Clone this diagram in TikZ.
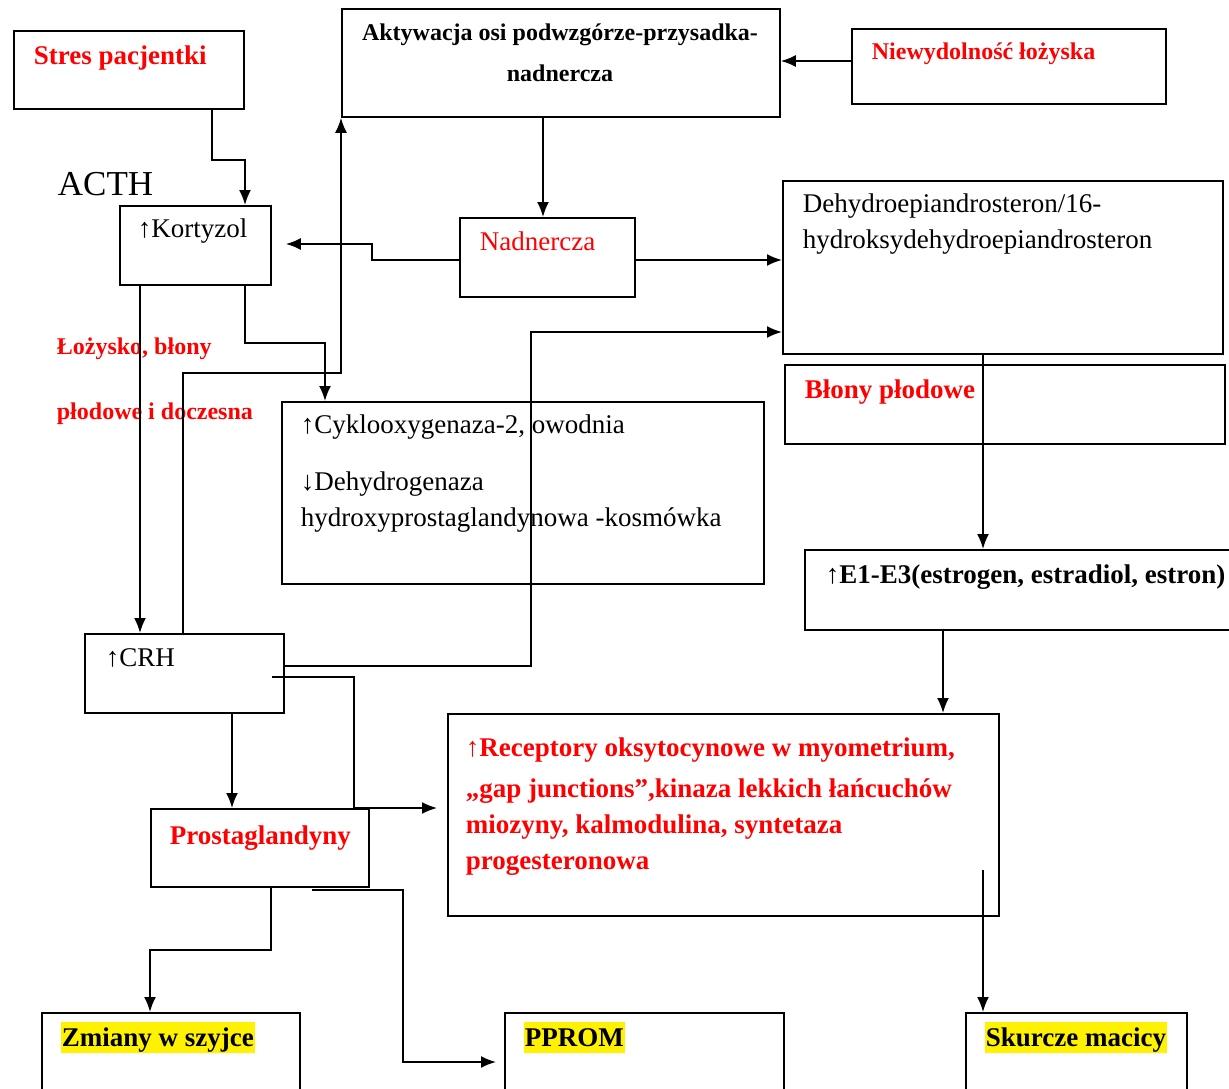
\documentclass[tikz,border=0pt]{standalone}
\usepackage{fontspec}
\setmainfont{Liberation Serif}
\usetikzlibrary{arrows.meta,calc}

\tikzset{
  box/.style={draw, anchor=north west, inner sep=0pt},
  txt/.style={anchor=base west, inner sep=0pt, align=left, font=\fontsize{27}{36}\selectfont},
  redtxt/.style={txt, text=red},
  redbold/.style={txt, text=red, font=\fontsize{27}{36}\selectfont\bfseries},
  redsmall/.style={txt, text=red, font=\fontsize{24}{65}\selectfont\bfseries},
  hl/.style={txt, fill=yellow, inner xsep=1pt, text height=24pt, text depth=7pt, font=\fontsize{27}{36}\selectfont\bfseries}
}

\begin{document}
\begin{tikzpicture}[x=1pt, y=-1pt, line width=1.8pt, >={Latex[length=15pt,width=12pt]}]
  \useasboundingbox (0,0) rectangle (1229,1089);
  \clip (0,0) rectangle (1229,1089);
  \fill[white] (0,0) rectangle (1229,1089);

  % boxes
  \node[box, minimum width=230pt, minimum height=78pt] (stres) at (13,30) {};
  \node[box, minimum width=438pt, minimum height=108pt] (aktyw) at (341,8) {};
  \node[box, minimum width=314pt, minimum height=75pt] (niewyd) at (851,28) {};
  \node[box, minimum width=151pt, minimum height=79pt] (kort) at (119,205) {};
  \node[box, minimum width=175pt, minimum height=79pt] (nadn) at (459,217) {};
  \node[box, minimum width=440pt, minimum height=173pt] (dhea) at (782,180) {};
  \node[box, minimum width=440pt, minimum height=79pt] (blony) at (784,364) {};
  \node[box, minimum width=482pt, minimum height=182pt] (cox) at (281,401) {};
  \node[box, minimum width=460pt, minimum height=80pt] (estr) at (804,549) {};
  \node[box, minimum width=199pt, minimum height=79pt] (crh) at (84,633) {};
  \node[box, minimum width=551pt, minimum height=202pt] (recept) at (447,713) {};
  \node[box, minimum width=218pt, minimum height=78pt] (prost) at (150,808) {};
  \node[box, minimum width=258pt, minimum height=100pt] (zmiany) at (41,1012) {};
  \node[box, minimum width=279pt, minimum height=100pt] (pprom) at (504,1012) {};
  \node[box, minimum width=221pt, minimum height=100pt] (skurcze) at (965,1012) {};

  % texts (multi-line ones sit on the baseline of their last line)
  \node[redbold] (stres-t) at (33,65) {Stres pacjentki};
  \node[txt, anchor=base, align=center, font=\fontsize{24}{41}\selectfont\bfseries] (aktyw-t) at (560,82)
    {Aktywacja osi podwzgórze-przysadka-\\nadnercza};
  \node[redbold, font=\fontsize{24}{30}\selectfont\bfseries] (niewyd-t) at (871,60) {Niewydolność łożyska};
  \node[txt, font=\fontsize{35}{40}\selectfont] (acth) at (57,195) {ACTH};
  \node[txt] (kort-t) at (137,237) {↑Kortyzol};
  \node[redtxt] (nadn-t) at (479,250) {Nadnercza};
  \node[txt] (dhea-t) at (802,248) {Dehydroepiandrosteron/16-\\hydroksydehydroepiandrosteron};
  \node[redbold] (blony-t) at (804,398) {Błony płodowe};
  \node[redsmall] (lozysko) at (56,419) {Łożysko, błony\\płodowe i doczesna};
  \node[txt] (cox-t) at (300,526) {↑Cyklooxygenaza-2, owodnia\\[21pt]↓Dehydrogenaza\\hydroxyprostaglandynowa -kosmówka};
  \node[txt, font=\fontsize{27}{36}\selectfont\bfseries] (estr-t) at (825,583) {↑E1-E3(estrogen, estradiol, estron)};
  \node[txt] (crh-t) at (105,666) {↑CRH};
  \node[redbold] (recept-t) at (465,869) {↑Receptory oksytocynowe w myometrium,\\[5pt]„gap junctions”,kinaza lekkich łańcuchów\\miozyny, kalmodulina, syntetaza\\progesteronowa};
  \node[redbold] (prost-t) at (169,844) {Prostaglandyny};
  \node[hl] (zmiany-t) at (60,1046) {Zmiany w szyjce};
  \node[hl] (pprom-t) at (523,1046) {PPROM};
  \node[hl] (skurcze-t) at (984,1046) {Skurcze macicy};

  % connectors
  \draw[->] (212,0 |- stres.south) -- (212,160) -| (245,0 |- kort.north);
  \draw[->] (niewyd.west |- 0,61) -- (aktyw.east |- 0,61);
  \draw[->] (543,0 |- aktyw.south) -- (543,0 |- nadn.north);
  \draw[->] (nadn.west |- 0,260) -- (372,260) |- ($(kort.east |- 0,244)+(14,0)$);
  \draw[->] (nadn.east |- 0,260) -- (dhea.west |- 0,260);
  \draw[->] (140,0 |- kort.south) -- (140,0 |- crh.north);
  \draw[->] (245,0 |- kort.south) -- (245,343) -| (325,0 |- cox.north);
  \draw[->] (183,0 |- crh.north) -- (183,373) -| (aktyw.south west);
  \draw[->] (crh.east |- 0,666) -- (531,666) |- (dhea.west |- 0,332);
  \draw[->] ($(crh.east |- 0,677)+(-13,0)$) -- (354,677) |- ($(recept.west |- 0,808)+(-10,0)$);
  \draw[->] (232,0 |- crh.south) -- (232,0 |- prost.north);
  \draw[->] (271,0 |- prost.south) -- (271,950) -| (150,0 |- zmiany.north);
  \draw[->] (312,890) -- (403,890) |- ($(pprom.west |- 0,1062)+(-8,0)$);
  \draw[->] (983,0 |- dhea.south) -- (983,0 |- estr.north);
  \draw[->] (943,0 |- estr.south) -- (943,0 |- recept.north);
  \draw[->] (983,870) -- (983,0 |- skurcze.north);
\end{tikzpicture}
\end{document}
